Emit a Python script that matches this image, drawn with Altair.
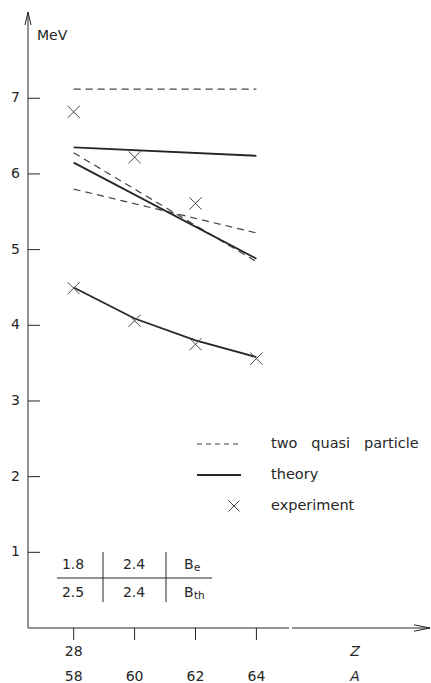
import altair as alt
import pandas as pd

# Mass number A (and proton number Z) of the nuclei shown
mass_numbers = [58, 60, 62, 64]
z_labels = ["28", "", "", ""]

# Two quasi particle estimates (dashed), energies in MeV at A = 58 and 64
qp_top = [7.12, 7.12]
qp_mid = [6.28, 4.84]
qp_low = [5.80, 5.22]

# Theory (solid)
th_flat = [6.35, 6.24]
th_diag = [6.15, 4.88]
th_curve = [4.50, 4.09, 3.80, 3.58]

# Experimental points (crosses)
exp_upper = [6.82, 6.22, 5.61]
exp_lower = [4.49, 4.06, 3.75, 3.56]

y_ticks = [1, 2, 3, 4, 5, 6, 7]

# wide word spacing kept with non-breaking spaces
GAP = "\u00a0\u00a0\u00a0"
legend_labels = ["two" + GAP + "quasi" + GAP + "particle", "theory", "experiment"]

table_row1 = ["1.8", "2.4"]
table_row2 = ["2.5", "2.4"]
table_symbols = [("B", "e"), ("B", "th")]

INK = "#262626"
FONT = "DejaVu Sans"
FS = 14

xs = alt.Scale(domain=[56.5, 69.7], range=[28, 430], nice=False, zero=False)
ys = alt.Scale(domain=[0, 8.14], range=[628, 12], nice=False, zero=False)

ends = [mass_numbers[0], mass_numbers[-1]]


def series(name, a, e):
    return pd.DataFrame({"series": name, "A": a, "E": e})


dashed_df = pd.concat([
    series("qp_top", ends, qp_top),
    series("qp_mid", ends, qp_mid),
    series("qp_low", ends, qp_low),
])
solid_df = pd.concat([
    series("th_flat", ends, th_flat),
    series("th_diag", ends, th_diag),
    series("th_curve", mass_numbers, th_curve),
])
exp_df = pd.concat([
    series("exp_upper", mass_numbers[:3], exp_upper),
    series("exp_lower", mass_numbers, exp_lower),
])

X = alt.X("A:Q", scale=xs, axis=None)
Y = alt.Y("E:Q", scale=ys, axis=None)

dashed = alt.Chart(dashed_df).mark_line(
    color="#444", strokeWidth=1.2, strokeDash=[7, 5]
).encode(x=X, y=Y, detail="series:N")

solid = alt.Chart(solid_df).mark_line(
    color=INK, strokeWidth=1.8
).encode(x=X, y=Y, detail="series:N")

cross_path = "M -1 -1 L 1 1 M -1 1 L 1 -1"
crosses = alt.Chart(exp_df).mark_point(
    shape=cross_path, size=150, filled=False, color="#4a4a4a", strokeWidth=1, opacity=1
).encode(x=X, y=Y)

one = pd.DataFrame({"k": [0]})

# Axes with arrowheads
y_axis = alt.Chart(one).mark_rule(color=INK, strokeWidth=1).encode(
    x=alt.value(28), y=alt.value(12), y2=alt.value(628))
x_axis_a = alt.Chart(one).mark_rule(color=INK, strokeWidth=1).encode(
    x=alt.value(28), x2=alt.value(289), y=alt.value(628))
x_axis_b = alt.Chart(one).mark_rule(color=INK, strokeWidth=1).encode(
    x=alt.value(292), x2=alt.value(430), y=alt.value(628))
y_arrow = alt.Chart(one).mark_point(
    shape="M -0.23 1 L 0 0 L 0.23 1", size=676, filled=False, color=INK, strokeWidth=1, opacity=1
).encode(x=alt.value(28), y=alt.value(12))
x_arrow = alt.Chart(one).mark_point(
    shape="M -1 -0.2 L 0 0 L -1 0.2", size=1024, filled=False, color=INK, strokeWidth=1, opacity=1
).encode(x=alt.value(430), y=alt.value(628))

# Y ticks point inward, labels on the left
ytick_df = pd.DataFrame({"E": y_ticks, "label": [str(v) for v in y_ticks]})
y_tick_marks = alt.Chart(ytick_df).mark_rule(color=INK, strokeWidth=1).encode(
    y=Y, x=alt.value(28), x2=alt.value(40))
y_tick_labels = alt.Chart(ytick_df).mark_text(
    font=FONT, fontSize=FS, color=INK, align="right", baseline="middle"
).encode(y=Y, x=alt.value(20), text="label:N")

mev = alt.Chart(one).mark_text(
    text="MeV", font=FONT, fontSize=FS, color=INK, align="left", baseline="middle"
).encode(x=alt.value(37), y=alt.value(36))

# X ticks point outward, two label rows (Z and A)
xtick_df = pd.DataFrame({"A": mass_numbers, "z": z_labels,
                         "a": [str(v) for v in mass_numbers]})
x_tick_marks = alt.Chart(xtick_df).mark_rule(color=INK, strokeWidth=1).encode(
    x=X, y=alt.value(628), y2=alt.value(640))
z_text = alt.Chart(xtick_df).mark_text(
    font=FONT, fontSize=FS, color=INK, baseline="middle"
).encode(x=X, y=alt.value(652), text="z:N")
a_text = alt.Chart(xtick_df).mark_text(
    font=FONT, fontSize=FS, color=INK, baseline="middle"
).encode(x=X, y=alt.value(677), text="a:N")
z_name = alt.Chart(one).mark_text(
    text="Z", font=FONT, fontSize=FS, fontStyle="italic", color=INK, baseline="middle"
).encode(x=alt.value(355), y=alt.value(652))
a_name = alt.Chart(one).mark_text(
    text="A", font=FONT, fontSize=FS, fontStyle="italic", color=INK, baseline="middle"
).encode(x=alt.value(355), y=alt.value(677))

# Legend
leg_dash = alt.Chart(one).mark_rule(color="#444", strokeWidth=1.2, strokeDash=[5, 4]).encode(
    x=alt.value(197), x2=alt.value(241), y=alt.value(444))
leg_solid = alt.Chart(one).mark_rule(color=INK, strokeWidth=1.8).encode(
    x=alt.value(197), x2=alt.value(241), y=alt.value(475))
leg_cross = alt.Chart(one).mark_point(
    shape=cross_path, size=120, filled=False, color="#4a4a4a", strokeWidth=1, opacity=1
).encode(x=alt.value(234), y=alt.value(506))
leg_df = pd.DataFrame({"label": legend_labels, "py": [444, 475, 506]})
leg_text = alt.Chart(leg_df).mark_text(
    font=FONT, fontSize=14.5, color=INK, align="left", baseline="middle"
).encode(x=alt.value(271), y=alt.Y("py:Q", scale=None), text="label:N")

# Table of B_e / B_th values
tab_df = pd.DataFrame({
    "label": table_row1 + table_row2,
    "px": [73, 134, 73, 134],
    "py": [565, 565, 593, 593],
})
tab_text = alt.Chart(tab_df).mark_text(
    font=FONT, fontSize=FS, color=INK, baseline="middle"
).encode(x=alt.X("px:Q", scale=None), y=alt.Y("py:Q", scale=None), text="label:N")
sym_df = pd.DataFrame({"b": [s[0] for s in table_symbols],
                       "sub": [s[1] for s in table_symbols],
                       "py": [565, 593]})
sym_b = alt.Chart(sym_df).mark_text(
    font=FONT, fontSize=FS, color=INK, align="left", baseline="middle"
).encode(x=alt.value(184), y=alt.Y("py:Q", scale=None), text="b:N")
sym_sub = alt.Chart(sym_df).mark_text(
    font=FONT, fontSize=10.5, color=INK, align="left", baseline="middle", dy=3
).encode(x=alt.value(194), y=alt.Y("py:Q", scale=None), text="sub:N")
tab_h = alt.Chart(one).mark_rule(color=INK, strokeWidth=1).encode(
    x=alt.value(57), x2=alt.value(212), y=alt.value(578))
tab_v1 = alt.Chart(one).mark_rule(color=INK, strokeWidth=1).encode(
    x=alt.value(103), y=alt.value(552), y2=alt.value(602))
tab_v2 = alt.Chart(one).mark_rule(color=INK, strokeWidth=1).encode(
    x=alt.value(166), y=alt.value(552), y2=alt.value(602))

chart = alt.layer(
    y_axis, x_axis_a, x_axis_b, y_arrow, x_arrow,
    y_tick_marks, y_tick_labels, mev,
    x_tick_marks, z_text, a_text, z_name, a_name,
    dashed, solid, crosses,
    leg_dash, leg_solid, leg_cross, leg_text,
    tab_h, tab_v1, tab_v2, tab_text, sym_b, sym_sub,
).properties(
    width=431, height=683,
    autosize=alt.AutoSizeParams(type="none"),
    padding=0,
    background="white",
).configure_view(stroke=None)

chart.save("out.html", embed_options={"renderer": "svg", "actions": False})
